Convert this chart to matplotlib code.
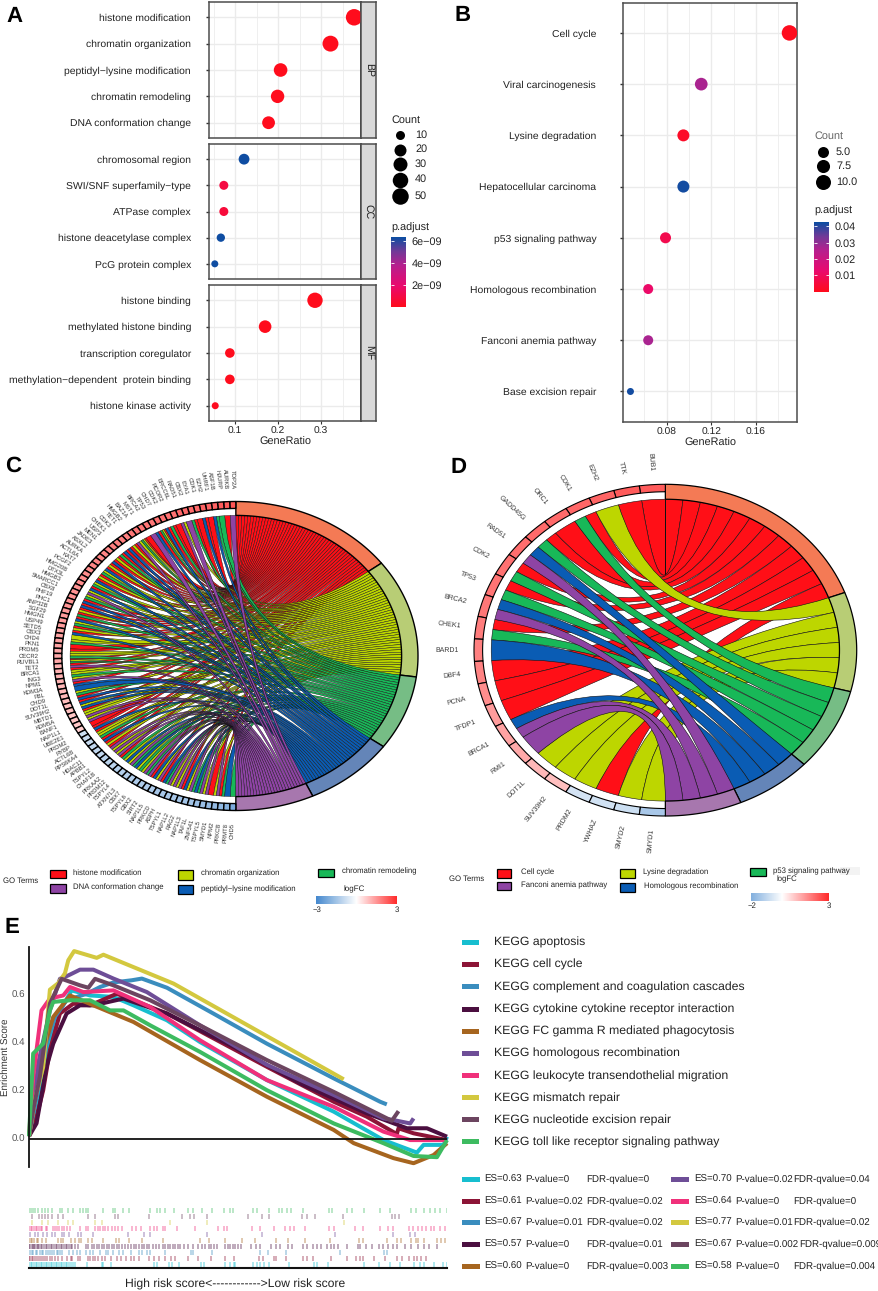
import numpy as np
import matplotlib
matplotlib.use('Agg')
import matplotlib.pyplot as plt
from matplotlib.colors import LinearSegmentedColormap, Normalize
from matplotlib.patches import PathPatch, Rectangle
from matplotlib.path import Path

plt.rcParams['font.family'] = ['Liberation Sans', 'DejaVu Sans']
plt.rcParams['text.hinting'] = 'no_hinting'

W, H = 879, 1291

# panel A
go_labels = [
    ['histone modification', 'chromatin organization', 'peptidyl\u2212lysine modification',
     'chromatin remodeling', 'DNA conformation change'],
    ['chromosomal region', 'SWI/SNF superfamily\u2212type', 'ATPase complex',
     'histone deacetylase complex', 'PcG protein complex'],
    ['histone binding', 'methylated histone binding', 'transcription coregulator',
     'methylation\u2212dependent  protein binding', 'histone kinase activity'],
]
go_strip = ['BP', 'CC', 'MF']
go_ratio = [[0.377, 0.322, 0.206, 0.199, 0.178],
            [0.121, 0.074, 0.074, 0.067, 0.053],
            [0.286, 0.170, 0.088, 0.088, 0.054]]
go_count = [[51, 44, 28, 27, 24],
            [16, 10, 10, 9, 7],
            [39, 23, 12, 12, 7]]
go_padj = [[1e-11, 2e-11, 2e-11, 3e-11, 3e-11],
           [6.3e-9, 0.9e-9, 0.7e-9, 6.3e-9, 6.3e-9],
           [1e-11, 2e-11, 3e-11, 3e-11, 1e-10]]

# panel B
kegg_labels = ['Cell cycle', 'Viral carcinogenesis', 'Lysine degradation', 'Hepatocellular carcinoma',
               'p53 signaling pathway', 'Homologous recombination', 'Fanconi anemia pathway',
               'Base excision repair']
kegg_ratio = [0.190, 0.111, 0.095, 0.095, 0.079, 0.0635, 0.0635, 0.0476]
kegg_count = [12, 7, 6, 6, 5, 4, 4, 3]
kegg_padj = [0.0005, 0.027, 0.002, 0.042, 0.008, 0.012, 0.027, 0.042]

# panel C
c_terms = ['histone modification', 'chromatin organization', 'chromatin remodeling',
           'peptidyl\u2212lysine modification', 'DNA conformation change']
c_genes = ['TOP2A', 'AURKB', 'HJURP', 'ASF1B', 'UHRF1', 'EZH2', 'CDK1', 'EYA1', 'CBX2', 'RAD51',
           'ERCC6L', 'RCOR2', 'CDK2', 'CHD7', 'TP53', 'BRCA2', 'MST1', 'BAZ1A', 'HMGB2', 'TET1',
           'CDK3', 'CHEK1', 'USP3', 'MEN1', 'JADE3', 'ASXL2', 'AURKA', 'ACTL6A', 'KAT7', 'PCGF2',
           'HMG20B', 'DTX3L', 'HMGB3', 'SMARCC1', 'CBX8', 'PHF19', 'PHC1', 'ANP32B', 'SGF29', 'HMGN1',
           'USP49', 'SETD5', 'CBX3', 'CHD4', 'PKN1', 'PRDM5', 'CECR2', 'RUVBL1', 'TET2', 'BRCA1',
           'ING3', 'NPM1', 'KDM3A', 'FBL', 'CHD9', 'DOT1L', 'SUV39H2', 'MBTD1', 'KDM5A', 'BANF1',
           'NAP1L1', 'UBE2E1', 'PRDM2', 'RYBP', 'ACTL6B', 'RPS6KA4', 'HDAC11', 'APBB1', 'TSPYL2', 'CHAF1B',
           'PRKAA2', 'PRDM12', 'TSPYL4', 'ATXN7L3', 'CBX7', 'TSPYL6', 'GBX2', 'SIRT2', 'NAP1L5', 'PRKCD',
           'ASPH', 'TSPYL1', 'NAP1L2', 'RAG2', 'NAP1L3', 'TAF1L', 'ZNF541', 'TSPYL5', 'SMYD1', 'NPM2',
           'PRKCB', 'PRMT8', 'CHD5']
# letters: index of the term in term order (R Y G B P)
c_links = ['P', 'R', 'G', 'GB', 'R', 'RB', 'R', 'RG', 'P', 'YP',
           'R', 'RG', 'RB', 'RYG', 'RB', 'P', 'R', 'RYG', 'YP', 'RY',
           'RB', 'RB', 'RG', 'RY', 'RB', 'RY', 'RB', 'YG', 'RY', 'RB',
           'YG', 'RB', 'YP', 'YG', 'RB', 'RB', 'RY', 'RG', 'RB', 'YG',
           'RY', 'RB', 'Y', 'YG', 'R', 'RY', 'YG', 'RYG', 'RP', 'RY',
           'YG', 'YP', 'RB', 'B', 'YG', 'RB', 'RB', 'YB', 'RY', 'YP',
           'YP', 'R', 'RB', 'RY', 'YG', 'RB', 'RY', 'RP', 'YP', 'YP',
           'RG', 'YB', 'YP', 'GB', 'YG', 'YP', 'GP', 'RB', 'YP', 'RB',
           'GP', 'YP', 'YP', 'RB', 'YP', 'GB', 'GP', 'YP', 'R', 'YP',
           'RG', 'B', 'G']
c_logfc = [2.4, 2.3, 2.3, 2.2, 2.2, 2.2, 2.1, 2.1, 2.1, 2.1,
           2.0, 2.0, 2.0, 2.0, 1.9, 1.9, 1.9, 1.9, 1.9, 1.8,
           1.8, 1.8, 1.8, 1.7, 1.7, 1.7, 1.7, 1.7, 1.6, 1.6,
           1.6, 1.6, 1.5, 1.5, 1.5, 1.5, 1.5, 1.4, 1.4, 1.4,
           1.4, 1.3, 1.3, 1.3, 1.3, 1.2, 1.2, 1.2, 1.1, 1.1,
           1.1, 1.1, 1.0, 1.0, 1.0, 0.9, 0.9, 0.9, 0.8, 0.8,
           0.8, 0.7, -0.8, -0.9, -0.9, -1.0, -1.0, -1.0, -1.1, -1.1,
           -1.1, -1.2, -1.2, -1.2, -1.2, -1.3, -1.3, -1.3, -1.3, -1.4,
           -1.4, -1.4, -1.4, -1.5, -1.5, -1.5, -1.6, -1.6, -1.7, -1.7,
           -1.8, -1.9, -2.1]

# panel D
d_terms = ['Cell cycle', 'Lysine degradation', 'p53 signaling pathway', 'Homologous recombination',
           'Fanconi anemia pathway']
d_genes = ['BUB1', 'TTK', 'EZH2', 'CDK1', 'ORC1', 'GADD45G', 'RAD51', 'CDK2', 'TP53', 'BRCA2', 'CHEK1', 'BARD1',
           'DBF4', 'PCNA', 'TFDP1', 'BRCA1', 'RMI1', 'DOT1L', 'SUV39H2', 'PRDM2', 'YWHAZ', 'SMYD2', 'SMYD1']
d_links = ['R', 'R', 'Y', 'RG', 'R', 'RG', 'BP', 'RG', 'RG', 'BP', 'RG', 'B',
           'R', 'R', 'R', 'BP', 'P', 'Y', 'Y', 'Y', 'R', 'Y', 'Y']
d_logfc = [2.3, 2.3, 2.2, 2.15, 2.1, 2.1, 2.05, 2.0, 1.95, 1.9, 1.85, 1.8,
           1.75, 1.6, 1.4, 1.3, 1.2, 1.0, 0.9, -0.7, -0.75, -0.8, -1.4]

term_letters = 'RYGBP'
ribbon_colors = ['#FF0F17', '#BDD600', '#18B858', '#0A5CB4', '#8E44A4']
ring_colors = ['#F47A55', '#B8CD75', '#76BD85', '#6485B8', '#A777AE']

# panel E, x is the gene rank 0..1000
gsea_names = ['KEGG apoptosis', 'KEGG cell cycle', 'KEGG complement and coagulation cascades',
              'KEGG cytokine cytokine receptor interaction', 'KEGG FC gamma R mediated phagocytosis',
              'KEGG homologous recombination', 'KEGG leukocyte transendothelial migration',
              'KEGG mismatch repair', 'KEGG nucleotide excision repair',
              'KEGG toll like receptor signaling pathway']
gsea_colors = ['#17BECF', '#8C1436', '#3A8DBE', '#4B0F40', '#A6651F',
               '#6E4E97', '#F0307A', '#D3C83F', '#6C4560', '#3DBB60']
gsea_es = ['ES=0.63', 'ES=0.61', 'ES=0.67', 'ES=0.57', 'ES=0.60',
           'ES=0.70', 'ES=0.64', 'ES=0.77', 'ES=0.67', 'ES=0.58']
gsea_p = ['P-value=0', 'P-value=0.02', 'P-value=0.01', 'P-value=0', 'P-value=0',
          'P-value=0.02', 'P-value=0', 'P-value=0.01', 'P-value=0.002', 'P-value=0']
gsea_fdr = ['FDR-qvalue=0', 'FDR-qvalue=0.02', 'FDR-qvalue=0.02', 'FDR-qvalue=0.01', 'FDR-qvalue=0.003',
            'FDR-qvalue=0.04', 'FDR-qvalue=0', 'FDR-qvalue=0.02', 'FDR-qvalue=0.009', 'FDR-qvalue=0.004']

apoptosis_x = [0, 22, 50, 70, 102, 146, 202, 250, 330, 409, 569, 729, 848, 928, 944, 992, 1000]
apoptosis_y = [0.01, 0.174, 0.394, 0.519, 0.615, 0.594, 0.588, 0.553, 0.491, 0.401, 0.243, 0.112, -0.006, -0.058, -0.026, -0.026, 0.008]
cellcycle_x = [0, 18, 34, 50, 74, 106, 146, 210, 330, 569, 729, 808, 880, 884, 920, 1000]
cellcycle_y = [0.01, 0.091, 0.201, 0.367, 0.519, 0.56, 0.553, 0.601, 0.519, 0.298, 0.153, 0.091, 0.019, 0.043, 0.022, -0.006]
complement_x = [0, 18, 42, 62, 90, 138, 170, 202, 246, 270, 330, 441, 569, 729, 840, 856]
complement_y = [0.01, 0.174, 0.395, 0.505, 0.574, 0.601, 0.629, 0.648, 0.657, 0.664, 0.626, 0.519, 0.394, 0.25, 0.153, 0.142]
cytokine_x = [0, 18, 42, 58, 90, 122, 154, 226, 330, 489, 649, 808, 904, 952, 1000]
cytokine_y = [0.01, 0.063, 0.298, 0.394, 0.519, 0.553, 0.553, 0.581, 0.519, 0.381, 0.229, 0.105, 0.043, 0.043, 0.008]
fcgamma_x = [0, 14, 34, 58, 98, 154, 250, 409, 569, 729, 777, 872, 920, 968, 1000]
fcgamma_y = [0.01, 0.174, 0.367, 0.505, 0.594, 0.553, 0.484, 0.326, 0.174, 0.036, -0.019, -0.081, -0.102, -0.068, -0.019]
homologous_x = [0, 10, 22, 50, 74, 94, 122, 154, 202, 282, 409, 569, 729, 848, 872, 912, 920]
homologous_y = [0.01, 0.119, 0.312, 0.532, 0.663, 0.677, 0.701, 0.701, 0.664, 0.608, 0.47, 0.306, 0.181, 0.084, 0.077, 0.063, 0.084]
leukocyte_x = [0, 10, 30, 50, 82, 98, 130, 202, 290, 409, 569, 729, 848, 912, 1000]
leukocyte_y = [0.01, 0.257, 0.532, 0.581, 0.594, 0.629, 0.608, 0.615, 0.546, 0.408, 0.243, 0.132, 0.029, -0.006, -0.006]
mismatch_x = [0, 14, 34, 50, 70, 86, 94, 108, 162, 178, 346, 753]
mismatch_y = [0.01, 0.16, 0.298, 0.618, 0.645, 0.686, 0.74, 0.778, 0.75, 0.763, 0.643, 0.246]
excision_x = [0, 10, 26, 50, 78, 122, 142, 158, 202, 290, 409, 569, 729, 868, 884]
excision_y = [0.01, 0.119, 0.257, 0.56, 0.663, 0.636, 0.626, 0.663, 0.636, 0.574, 0.47, 0.326, 0.194, 0.074, 0.114]
toll_x = [0, 10, 34, 50, 58, 98, 146, 194, 226, 290, 409, 569, 729, 848, 920, 976, 1000]
toll_y = [0.01, 0.353, 0.394, 0.532, 0.567, 0.574, 0.574, 0.532, 0.532, 0.47, 0.36, 0.201, 0.063, -0.019, -0.072, -0.077, -0.006]

apoptosis_hits = [0, 4, 8, 12, 16, 20, 24, 28, 32, 36, 40, 44, 48, 52, 56, 60, 64, 68, 72, 76, 80, 84, 88, 92, 96, 100, 106,
                  110, 138, 174, 178, 196, 298, 306, 335, 342, 360, 412, 418, 470, 480, 490, 494, 536, 545, 552, 562, 574,
                  621, 682, 690, 715, 802, 838, 863, 888, 920, 936, 944, 970, 990, 1000]
cellcycle_hits = [0, 3, 6, 10, 14, 18, 24, 28, 34, 38, 44, 50, 56, 62, 70, 80, 90, 100, 104, 118, 122, 140, 146, 152, 158, 166,
                  174, 182, 196, 210, 220, 232, 244, 250, 262, 286, 300, 312, 326, 340, 350, 380, 405, 435, 470, 490, 550,
                  560, 585, 590, 615, 655, 665, 680, 722, 760, 782, 792, 800, 826, 852, 880, 892, 910, 920, 928, 938, 950]
complement_hits = [2, 6, 10, 16, 20, 26, 30, 34, 40, 46, 50, 54, 60, 66, 70, 74, 80, 96, 106, 116, 122, 136, 146, 154, 170, 184,
                   190, 200, 216, 226, 245, 262, 270, 282, 290, 325, 388, 392, 438, 552, 572, 616, 745, 850, 856]
cytokine_hits = [0, 3, 6, 9, 12, 15, 18, 21, 24, 28, 32, 36, 40, 44, 48, 52, 56, 60, 64, 68, 72, 76, 80, 84, 88, 92, 96, 100, 104,
                 110, 118, 136, 142, 150, 156, 162, 168, 174, 180, 186, 192, 198, 204, 210, 216, 222, 230, 238, 244, 250, 256,
                 262, 270, 276, 282, 288, 296, 304, 312, 320, 326, 332, 338, 344, 350, 356, 362, 372, 380, 392, 404, 414, 422,
                 430, 436, 442, 450, 470, 476, 482, 488, 494, 500, 506, 530, 542, 552, 580, 590, 600, 620, 630, 655, 666, 680,
                 690, 698, 712, 722, 730, 740, 760, 786, 792, 806, 820, 838, 848, 860, 870, 880, 900, 914, 930, 944, 956, 976]
fcgamma_hits = [0, 4, 8, 12, 18, 22, 30, 40, 70, 76, 82, 100, 110, 120, 124, 140, 150, 176, 208, 216, 240, 270, 320, 410, 430, 470,
                510, 540, 590, 620, 660, 720, 790, 800, 856, 880, 890, 915, 925, 930, 945, 975, 985, 995]
homologous_hits = [2, 14, 22, 34, 44, 54, 62, 78, 84, 96, 118, 124, 154, 238, 276, 290, 425, 557, 733, 871, 911, 924]
leukocyte_hits = [0, 4, 8, 12, 16, 20, 24, 28, 32, 40, 44, 58, 62, 66, 72, 78, 84, 90, 98, 122, 136, 142, 158, 164, 170, 176, 182,
                  190, 198, 206, 214, 222, 246, 256, 268, 290, 298, 306, 320, 326, 354, 396, 452, 466, 474, 533, 553, 587, 613,
                  625, 633, 660, 717, 730, 781, 798, 840, 860, 870, 910, 918, 930, 940, 950, 962, 970, 984, 996]
mismatch_hits = [6, 30, 46, 70, 94, 106, 158, 174, 338, 425, 753]
excision_hits = [8, 25, 30, 38, 46, 54, 70, 82, 140, 158, 206, 214, 288, 366, 386, 394, 425, 523, 557, 575, 653, 665, 685, 751,
                 868, 876, 884]
toll_hits = [0, 4, 10, 14, 22, 30, 38, 46, 54, 73, 78, 94, 106, 122, 130, 136, 142, 176, 200, 206, 224, 240, 290, 307, 313, 325,
             347, 381, 392, 413, 437, 467, 480, 489, 537, 545, 575, 597, 605, 617, 627, 655, 717, 725, 761, 773, 801, 839, 863,
             914, 927, 944, 959, 972, 984, 1000]

gsea_x = [apoptosis_x, cellcycle_x, complement_x, cytokine_x, fcgamma_x, homologous_x, leukocyte_x, mismatch_x, excision_x, toll_x]
gsea_y = [apoptosis_y, cellcycle_y, complement_y, cytokine_y, fcgamma_y, homologous_y, leukocyte_y, mismatch_y, excision_y, toll_y]
gsea_hits = [apoptosis_hits, cellcycle_hits, complement_hits, cytokine_hits, fcgamma_hits,
             homologous_hits, leukocyte_hits, mismatch_hits, excision_hits, toll_hits]

padj_cmap = LinearSegmentedColormap.from_list(
    'padj', [(0, '#ff0c1c'), (0.3, '#ea0a6e'), (0.6, '#b5208f'), (0.8, '#6f3a98'), (1, '#0b4ea2')])
fc_cmap = LinearSegmentedColormap.from_list('fc', ['#4488CE', '#FFFFFF', '#FF2B2B'])
fc_norm = Normalize(-3, 3)

fig = plt.figure(figsize=(W / 100, H / 100), dpi=100)


def px_axes(x0, y0, x1, y1, **kw):
    return fig.add_axes([x0 / W, 1 - y1 / H, (x1 - x0) / W, (y1 - y0) / H], **kw)


# overlay in pixel coordinates for legends and panel letters
ov = px_axes(0, 0, W, H, zorder=20)
ov.set_xlim(0, W)
ov.set_ylim(H, 0)
ov.axis('off')
ov.patch.set_alpha(0)


def txt(x, y, s, size=7.4, color='#222222', **kw):
    kw.setdefault('va', 'center')
    ov.text(x, y, s, fontsize=size, color=color, **kw)


def size_a(count):
    return (np.interp(count, [7, 10, 20, 30, 40, 50], [7, 9, 12, 14, 15.5, 16.5]) * 0.72) ** 2


def size_b(count):
    return (np.interp(count, [3, 4, 5, 6, 7, 10, 12], [7, 10, 11, 12, 12.7, 15, 15.5]) * 0.72) ** 2


def style_dot_axes(ax, xticks, xminor):
    ax.set_xticks(xminor, minor=True)
    ax.set_xticks(xticks)
    ax.grid(True, which='major', color='#EBEBEB', lw=1.0)
    ax.grid(True, which='minor', axis='x', color='#EFEFEF', lw=0.7)
    ax.set_axisbelow(True)
    ax.tick_params(which='minor', length=0)
    for s in ax.spines.values():
        s.set_color('#4D4D4D')
        s.set_linewidth(1.1)


# panel A
facet_px = [(2, 138), (144, 279), (285, 421)]
for i in range(3):
    ax = px_axes(209, facet_px[i][0], 361, facet_px[i][1])
    y = np.arange(5)
    ax.scatter(go_ratio[i], y, s=size_a(np.array(go_count[i])), c=go_padj[i], cmap=padj_cmap,
               vmin=0, vmax=6.37e-9, lw=0, zorder=3)
    ax.set_xlim(0.0395, 0.393)
    ax.set_ylim(4.58, -0.58)
    style_dot_axes(ax, [0.1, 0.2, 0.3], [0.05, 0.15, 0.25, 0.35])
    ax.set_yticks(y)
    ax.set_yticklabels(go_labels[i], fontsize=7.5, color='#222222')
    ax.tick_params(axis='y', length=2, width=1, color='#333333', pad=11)
    if i == 2:
        ax.tick_params(axis='x', length=2, width=0.8, color='#333333', pad=2, labelsize=7.4, labelcolor='#222222')
        ax.set_xticklabels(['0.1', '0.2', '0.3'])
        ax.set_xlabel('GeneRatio', fontsize=7.8, color='#222222', labelpad=1)
    else:
        ax.tick_params(axis='x', length=0, labelbottom=False)
    ax.spines['right'].set_color('#111111')
    st = px_axes(361, facet_px[i][0], 376, facet_px[i][1])
    st.set_facecolor('#D9D9D9')
    st.set_xticks([])
    st.set_yticks([])
    for s in st.spines.values():
        s.set_color('#4D4D4D')
        s.set_linewidth(1.1)
    st.text(0.5, 0.5, go_strip[i], rotation=-90, ha='center', va='center', fontsize=7.6,
            color='#222222', transform=st.transAxes)

txt(391, 120, 'Count', 7.8)
for c, yy in zip([10, 20, 30, 40, 50], [135, 149.5, 164, 179.5, 196]):
    ov.scatter([400.5], [yy], s=size_a(c), c='black', lw=0)
    txt(415, yy, str(c), 7.8)
txt(391, 228, 'p.adjust', 7.8)


def padj_bar(x0, y0, x1, y1, vmax, ticks, labels, vmin=0.0):
    cb = px_axes(x0, y0, x1, y1)
    cb.imshow(np.linspace(vmax, vmin, 256).reshape(-1, 1), aspect='auto', cmap=padj_cmap,
              vmin=vmin, vmax=vmax, extent=[0, 1, vmin, vmax])
    cb.hlines(ticks, 0, 0.2, color='white', lw=0.6)
    cb.hlines(ticks, 0.8, 1, color='white', lw=0.6)
    cb.set_xticks([])
    cb.yaxis.tick_right()
    cb.set_yticks(ticks)
    cb.set_yticklabels(labels, fontsize=7.8, color='#222222')
    cb.tick_params(axis='y', length=0, pad=4)
    for s in cb.spines.values():
        s.set_visible(False)


padj_bar(390.7, 236.7, 405.7, 306.7, 6.37e-9, [2e-9, 4e-9, 6e-9], ['2e\u221209', '4e\u221209', '6e\u221209'])

# panel B
ax = px_axes(623.3, 2.7, 797.3, 421.7)
y = np.arange(len(kegg_labels))
ax.scatter(kegg_ratio, y, s=size_b(np.array(kegg_count)), c=kegg_padj, cmap=padj_cmap,
           vmin=0, vmax=0.0427, lw=0, zorder=3)
ax.set_xlim(0.0412, 0.197)
ax.set_ylim(7.59, -0.59)
style_dot_axes(ax, [0.08, 0.12, 0.16], [0.06, 0.10, 0.14, 0.18])
ax.set_yticks(y)
ax.set_yticklabels(kegg_labels, fontsize=7.5, color='#222222')
ax.tick_params(axis='y', length=2, width=1, color='#333333', pad=17.5)
ax.tick_params(axis='x', length=2, width=0.8, color='#333333', pad=2, labelsize=7.4, labelcolor='#222222')
ax.set_xticklabels(['0.08', '0.12', '0.16'])
ax.set_xlabel('GeneRatio', fontsize=7.8, color='#222222', labelpad=1)

txt(814, 136, 'Count', 7.8, color='#666666')
for c, lab, yy in zip([5, 7.5, 10], ['5.0', '7.5', '10.0'], [152, 166, 182]):
    ov.scatter([822.7], [yy], s=size_b(c), c='black', lw=0)
    txt(836, yy, lab, 7.8)
txt(814, 211, 'p.adjust', 7.8)
padj_bar(814, 221.7, 828.7, 291.7, 0.0427, [0.01, 0.02, 0.03, 0.04], ['0.01', '0.02', '0.03', '0.04'])


def arc_xy(side, th, r):
    return np.column_stack([side * np.sin(th) * r, np.cos(th) * r])


def ring_patch(ax, th0, th1, r0, r1, side, fc, lw):
    th = np.linspace(th0, th1, 40)
    pts = np.vstack([arc_xy(side, th, r1), arc_xy(side, th[::-1], r0)])
    ax.fill(pts[:, 0], pts[:, 1], facecolor=fc, edgecolor='black', lw=lw, joinstyle='miter', clip_on=False)


def chord(rect, genes, links, logfc, label_size, gene_lw, term_lw, ribbon_lw):
    ax = px_axes(*rect)
    ax.set_xlim(-1, 1)
    ax.set_ylim(-1, 1)
    ax.axis('off')
    rx = (rect[2] - rect[0]) / 2
    ry = (rect[3] - rect[1]) / 2
    ribbon_r = 0.91
    n = len(genes)
    totals = [sum(s.count(t) for s in links) for t in term_letters]
    total = sum(totals)
    term_start = np.cumsum([0] + totals[:-1]) / total * np.pi
    dth_term = np.pi / total
    used = [0] * 5
    ribbons = [[] for _ in term_letters]
    for i, s in enumerate(links):
        g0 = i * np.pi / n
        dg = np.pi / n / len(s)
        for j, t in enumerate(s):
            k = term_letters.index(t)
            t0 = term_start[k] + used[k] * dth_term
            used[k] += 1
            ribbons[k].append((g0 + j * dg, g0 + (j + 1) * dg, t0, t0 + dth_term))
    for k, rib in enumerate(ribbons):
        for g0, g1, t0, t1 in rib:
            gth = np.linspace(g0, g1, 6)
            tth = np.linspace(t1, t0, 6)
            gp = arc_xy(-1, gth, ribbon_r)
            tp = arc_xy(1, tth, ribbon_r)
            verts = list(map(tuple, gp)) + [(0, 0), tuple(tp[0])] + list(map(tuple, tp[1:])) + [(0, 0), tuple(gp[0])]
            codes = [Path.MOVETO] + [Path.LINETO] * 5 + [Path.CURVE3, Path.CURVE3] + [Path.LINETO] * 5 + [Path.CURVE3, Path.CURVE3]
            ax.add_patch(PathPatch(Path(verts, codes), facecolor=ribbon_colors[k], edgecolor='#111111', lw=ribbon_lw))
    for k in range(5):
        ring_patch(ax, term_start[k], term_start[k] + totals[k] * dth_term, 0.91, 1.0, 1, ring_colors[k], term_lw)
    for i in range(n):
        col = fc_cmap(fc_norm(logfc[i]))
        ring_patch(ax, i * np.pi / n, (i + 1) * np.pi / n, 0.955, 1.0, -1, col, gene_lw)
        th = (i + 0.5) * np.pi / n
        rot = np.degrees(np.arctan2(-np.cos(th) * ry, np.sin(th) * rx))
        ax.text(-np.sin(th) * 1.08, np.cos(th) * 1.08, genes[i], fontsize=label_size, color='#333333',
                rotation=rot, rotation_mode='anchor', ha='right', va='center', clip_on=False)


chord((53.7, 501.5, 418, 810.5), c_genes, c_links, c_logfc, 4.2, 1.0, 1.0, 0.3)
chord((474, 484.3, 856.7, 816), d_genes, d_links, d_logfc, 5.0, 0.8, 0.9, 0.4)


def swatch(x0, y0, x1, y1, fc):
    ov.add_patch(Rectangle((x0, y0), x1 - x0, y1 - y0, facecolor=fc, edgecolor='black', lw=0.9))


def fc_bar(x0, y0, x1, y1, vmin, vmax):
    cb = px_axes(x0, y0, x1, y1)
    cb.imshow(np.linspace(vmin, vmax, 256).reshape(1, -1), aspect='auto', cmap=fc_cmap, norm=fc_norm)
    cb.axis('off')


# legend C
txt(3, 881, 'GO Terms', 5.6)
c_legend = [(50, 870, 65.7, 878, 0, 73.3, 873), (50, 884, 65.7, 893, 4, 73.3, 887.3),
            (177.7, 870, 193, 879.5, 1, 201, 873), (177.7, 885, 193, 894, 3, 201, 889),
            (318, 869, 334, 877, 2, 342, 871.7)]
for x0, y0, x1, y1, k, tx, ty in c_legend:
    swatch(x0, y0, x1, y1, ribbon_colors[k])
    txt(tx, ty, c_terms[k], 5.6)
txt(343, 889.7, 'logFC', 5.8)
fc_bar(316, 895.7, 396.7, 904, -3, 3)
txt(317, 910, '\u22123', 5.6, ha='center')
txt(397, 910, '3', 5.6, ha='center')

# legend D
txt(449.3, 879.3, 'GO Terms', 5.6)
d_legend = [(496.7, 869.3, 511.3, 877.7, 0, 520.7, 872.3), (496.7, 882, 511.3, 889.7, 4, 520.7, 885),
            (620, 869.3, 635, 878, 1, 642.7, 872.3), (620, 883.3, 635, 892, 3, 644.3, 886),
            (750, 867.7, 765.7, 875.7, 2, 772.7, 871)]
for x0, y0, x1, y1, k, tx, ty in d_legend:
    swatch(x0, y0, x1, y1, ribbon_colors[k])
    txt(tx, ty, d_terms[k], 5.6)
ov.add_patch(Rectangle((840, 867), 20, 8, facecolor='#F3F3F3', edgecolor='none', zorder=0))
txt(776, 879.7, 'logFC', 5.6)
fc_bar(750.7, 892.7, 828.7, 900.7, -2, 3)
txt(752, 906, '\u22122', 5.6, ha='center')
txt(829, 906, '3', 5.6, ha='center')

# panel E
ax = px_axes(29, 947, 447, 1167.3)
for i in range(10):
    ax.plot(gsea_x[i], gsea_y[i], color=gsea_colors[i], lw=2.9, clip_on=False,
            solid_joinstyle='round', solid_capstyle='butt')
ax.axhline(0, color='#111111', lw=1.3, zorder=5)
ax.set_xlim(0, 1000)
ax.set_ylim(-0.119, 0.795)
ax.set_xticks([])
ax.set_yticks([0, 0.2, 0.4, 0.6])
ax.set_yticklabels(['0.0', '0.2', '0.4', '0.6'], fontsize=7, color='#555555')
ax.tick_params(axis='y', length=0, pad=2.5)
for s in ['top', 'right', 'bottom']:
    ax.spines[s].set_visible(False)
ax.spines['left'].set_color('#111111')
ax.spines['left'].set_linewidth(1.3)
ax.patch.set_alpha(0)
txt(5.5, 1057, 'Enrichment Score', 7, rotation=90, ha='center', color='#333333')

rug = px_axes(29, 1207, 447, 1268)
for i in range(10):
    rug.vlines(gsea_hits[i], i + 0.1, i + 0.95, color=gsea_colors[i], lw=1.1, alpha=0.45)
rug.set_xlim(0, 1000)
rug.set_ylim(0, 10.1)
rug.set_xticks([])
rug.set_yticks([])
for s in ['top', 'right', 'left']:
    rug.spines[s].set_visible(False)
rug.spines['bottom'].set_linewidth(1.5)
rug.spines['bottom'].set_color('#111111')
txt(235.5, 1284, 'High risk score<------------>Low risk score', 8.7, ha='center')

legend_y = [942.3, 964.3, 986.7, 1009, 1031, 1053.3, 1075.7, 1097.7, 1119.7, 1141.7]
for i in range(10):
    ov.add_patch(Rectangle((461.7, legend_y[i] - 2.5), 17.6, 5, facecolor=gsea_colors[i], edgecolor='none'))
    txt(493.7, legend_y[i] + 0.5, gsea_names[i], 8.8)

rows = [1179.3, 1201, 1222.7, 1244.3, 1266]
for i in range(5):
    ov.add_patch(Rectangle((462, rows[i] - 2.5), 17.7, 5, facecolor=gsea_colors[i], edgecolor='none'))
    txt(484, rows[i], gsea_es[i], 7.0)
    txt(525.7, rows[i], gsea_p[i], 7.0)
    txt(586, rows[i], gsea_fdr[i], 7.0)
    j = i + 5
    ov.add_patch(Rectangle((670.7, rows[i] - 2.5), 18, 5, facecolor=gsea_colors[j], edgecolor='none'))
    txt(694.3, rows[i], gsea_es[j], 7.0)
    txt(735.7, rows[i], gsea_p[j], 7.0)
    txt(799 if i == 3 else 793.7, rows[i], gsea_fdr[j], 7.0)

# panel letters
for s, x, y in [('A', 14, 16), ('B', 463, 15), ('C', 13, 466), ('D', 459, 467), ('E', 12, 927)]:
    txt(x, y, s, 16, color='black', fontweight='bold', ha='center')

fig.savefig('out.png', dpi=100)
